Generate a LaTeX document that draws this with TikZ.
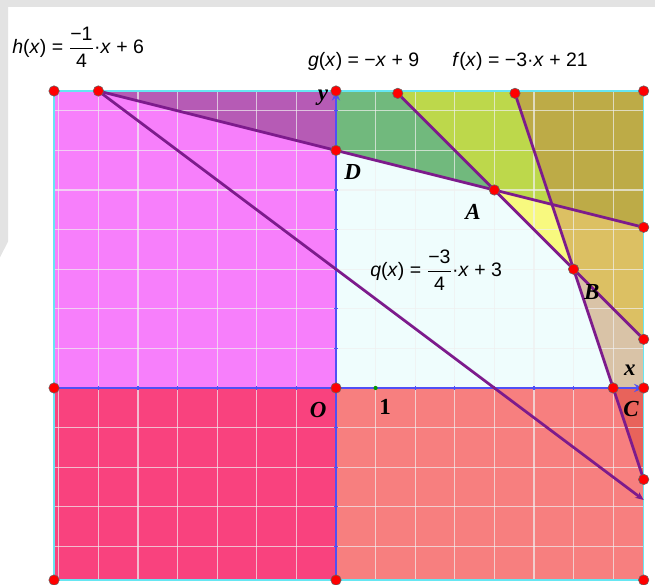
\documentclass[tikz,border=0pt]{standalone}
\usepackage{amsmath}
\usepackage{fontspec}
\setmainfont{Liberation Sans}
\newfontfamily\ptfont{Liberation Serif}
\usetikzlibrary{arrows.meta}

\definecolor{regLL}{HTML}{F9427E}
\definecolor{regLR}{HTML}{F77F7F}
\definecolor{regUL}{HTML}{F77FFB}
\definecolor{regUR}{HTML}{EFFDFD}
\definecolor{regPurple}{HTML}{B65BB5}
\definecolor{regGreen}{HTML}{71B97D}
\definecolor{regLime}{HTML}{BDD84B}
\definecolor{regOlive}{HTML}{BDAB47}
\definecolor{regYellow}{HTML}{F8F97F}
\definecolor{regGold}{HTML}{DCC063}
\definecolor{regBeige}{HTML}{D9C3A7}
\definecolor{regRed}{HTML}{E8635B}
\definecolor{graphline}{HTML}{7D1B8C}
\definecolor{axisblue}{HTML}{5050F5}
\definecolor{framecyan}{HTML}{66E6F2}

\begin{document}
\begin{tikzpicture}[x=1cm, y=1cm,
	pt/.style={circle, fill=red, draw=black!60, line width=0.4pt, inner sep=0pt, minimum size=7.5pt},
	lbl/.style={font=\ptfont\bfseries\itshape\fontsize{16.5}{19}\selectfont},
	fn/.style={font=\fontsize{14}{16}\selectfont, inner sep=0pt},
	graph/.style={draw=graphline, line width=2pt},
	gridline/.style={draw=white!88!gray, opacity=0.7, line width=0.8pt},
	axis/.style={draw=axisblue, line width=0.8pt}]
	\useasboundingbox (-8.485,-4.975) rectangle (8.056,9.798);
	\fill[gray!22] (-8.485,9.798) rectangle (8.056,9.62);
	\fill[gray!22] (-8.485,9.798) -- (-8.485,3.3) -- (-8.28,3.7) -- (-8.28,9.798) -- cycle;
	% Points of the frame and of the graphs:
	\coordinate (TL) at (-7.12,7.5);
	\coordinate (TR) at (7.77,7.5);
	\coordinate (BL) at (-7.12,-4.85);
	\coordinate (BR) at (7.77,-4.85);
	\coordinate (O) at (0,0);
	\coordinate (Xl) at (-7.12,0);
	\coordinate (Xr) at (7.77,0);
	\coordinate (Yt) at (0,7.5);
	\coordinate (Yb) at (0,-4.85);
	\coordinate (P) at (-6,7.5);
	\coordinate (D) at (0,6);
	\coordinate (A) at (4,5);
	\coordinate (B) at (6,3);
	\coordinate (C) at (7,0);
	\coordinate (E) at (5.4545,4.6364);
	\coordinate (Gt) at (1.56,7.44);
	\coordinate (Ft) at (4.52,7.44);
	\coordinate (Hr) at (7.77,4.0575);
	\coordinate (Gr) at (7.77,1.23);
	\coordinate (Fr) at (7.77,-2.31);
	\coordinate (Qr) at (7.77,-2.8275);
	% Regions:
	\fill[regLL] (BL) rectangle (O);
	\fill[regLR] (Yb) rectangle (Xr);
	\fill[regUL] (Xl) rectangle (Yt);
	\fill[regUR] (O) rectangle (TR);
	\fill[regPurple] (P) -- (D) -- (Yt) -- cycle;
	\fill[regGreen] (Yt) -- (D) -- (A) -- (Gt) -- (Gt |- Yt) -- cycle;
	\fill[regLime] (Gt |- Yt) -- (Gt) -- (A) -- (E) -- (Ft) -- (Ft |- Yt) -- cycle;
	\fill[regOlive] (Ft |- Yt) -- (Ft) -- (E) -- (Hr) -- (TR) -- cycle;
	\fill[regYellow] (A) -- (E) -- (B) -- cycle;
	\fill[regGold] (E) -- (Hr) -- (Gr) -- (B) -- cycle;
	\fill[regBeige] (B) -- (Gr) -- (Xr) -- (C) -- cycle;
	\fill[regRed] (C) -- (Xr) -- (Fr) -- cycle;
	% Grid, frame and axes:
	\foreach \i in {-7,...,7}
		\draw[gridline] (\i,-4.85) -- (\i,7.5);
	\foreach \j in {-4,...,7}
		\draw[gridline] (-7.12,\j) -- (7.77,\j);
	\draw[framecyan, line width=0.8pt] (BL) rectangle (TR);
	\draw[axis, -{Stealth[length=7pt, width=6pt, inset=2.5pt]}] (Xl) -- (Xr);
	\draw[axis, -{Stealth[length=7pt, width=6pt, inset=2.5pt]}] (Yb) -- (Yt);
	\foreach \i in {-7,...,-1,1,2,...,7}
		\draw[axis] (\i,-0.05) -- (\i,0.05);
	\foreach \j in {-4,...,-1,1,2,...,7}
		\draw[axis] (-0.05,\j) -- (0.05,\j);
	% Graphs:
	\draw[graph] (P) -- (Hr);
	\draw[graph, -{Stealth[length=6pt, width=5pt]}] (P) -- (Qr);
	\draw[graph] (Gt) -- (Gr);
	\draw[graph] (Ft) -- (Fr);
	\foreach \p in {TL,P,Yt,Gt,Ft,TR,D,A,B,Hr,Gr,Xl,O,C,Xr,Fr,BL,Yb,BR}
		\node[pt] (dot\p) at (\p) {};
	\node[circle, fill=green!60!black, inner sep=0pt, minimum size=3pt] (one) at (1,0) {};
	% Labels:
	\node[lbl] (ylab) at (-0.33,7.32) {y};
	\node[lbl] (xlab) at (7.42,0.45) {x};
	\node[lbl] (Dlab) at (0.42,5.45) {D};
	\node[lbl] (Alab) at (3.46,4.44) {A};
	\node[lbl] (Blab) at (6.46,2.42) {B};
	\node[lbl] (Clab) at (7.45,-0.52) {C};
	\node[lbl] (Olab) at (-0.45,-0.56) {O};
	\node[lbl, font=\ptfont\bfseries\fontsize{16.5}{19}\selectfont] (onelab) at (1.24,-0.48) {1};
	\node[fn, anchor=west] (hfn) at (-8.18,8.61) {\textit{h}(\textit{x}) = $\dfrac{\text{−1}}{\text{4}}$·\textit{x} + 6};
	\node[fn, anchor=base west] (gfn) at (-0.71,8.13) {\textit{g}(\textit{x}) = −\textit{x} + 9};
	\node[fn, anchor=base west] (ffn) at (2.93,8.13) {\textit{f}(\textit{x}) = −3·\textit{x} + 21};
	\node[fn, anchor=west] (qfn) at (0.86,2.98) {\textit{q}(\textit{x}) = $\dfrac{\text{−3}}{\text{4}}$·\textit{x} + 3};
\end{tikzpicture}
\end{document}
